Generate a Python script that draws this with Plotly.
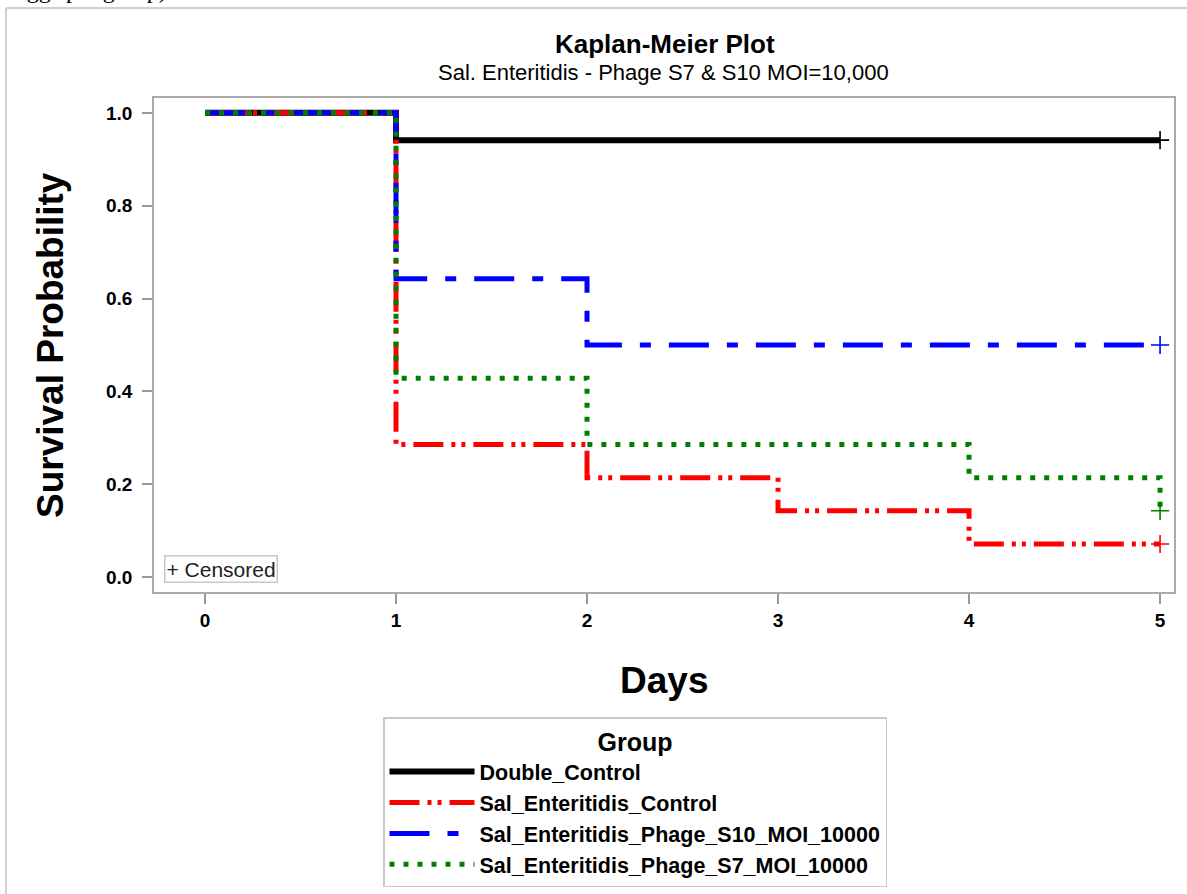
import plotly.graph_objects as go

# Kaplan-Meier survival estimates per group (step functions, days 0-5)
groups = [
    "Double_Control",
    "Sal_Enteritidis_Control",
    "Sal_Enteritidis_Phage_S10_MOI_10000",
    "Sal_Enteritidis_Phage_S7_MOI_10000",
]
days_double = [0, 1, 5]
surv_double = [1.0, 0.9412, 0.9412]
days_sal = [0, 1, 2, 3, 4, 5]
surv_sal = [1.0, 0.2857, 0.2143, 0.1429, 0.0714, 0.0714]
days_s10 = [0, 1, 2, 5]
surv_s10 = [1.0, 0.6429, 0.5, 0.5]
days_s7 = [0, 1, 2, 4, 5]
surv_s7 = [1.0, 0.4286, 0.2857, 0.2143, 0.1429]

# Censored observations at end of follow-up
cens_day = [5, 5, 5, 5]
cens_surv = [0.9412, 0.0714, 0.5, 0.1429]

x_ticks = [0, 1, 2, 3, 4, 5]
y_ticks = [0.0, 0.2, 0.4, 0.6, 0.8, 1.0]

colors = ["#000000", "#ff0000", "#0000ff", "#008000"]
dashes = ["solid", "30px,8px,4px,6px,4px,8px", "40px,18px,11px,18px", "5px,9px"]
widths = [6, 5, 5, 5]
series = [
    (days_double, surv_double),
    (days_sal, surv_sal),
    (days_s10, surv_s10),
    (days_s7, surv_s7),
]

FONT = "Liberation Sans, Arial, sans-serif"

fig = go.Figure()
for i, (name, (xs, ys)) in enumerate(zip(groups, series)):
    fig.add_trace(go.Scatter(
        x=xs, y=ys, mode="lines", name=name, line_shape="hv",
        line=dict(color=colors[i], width=widths[i], dash=dashes[i]),
        legendgroup=name,
    ))

for i in range(len(groups)):
    fig.add_trace(go.Scatter(
        x=[cens_day[i]], y=[cens_surv[i]], mode="markers", showlegend=False,
        marker=dict(symbol="cross-thin", size=13, color=colors[i],
                    line=dict(color=colors[i], width=1.6)),
        hoverinfo="skip",
    ))

def px_x(px):
    return (px - 154) / 1020

def px_y(py):
    return (592 - py) / 494

fig.update_layout(
    width=1187, height=894,
    margin=dict(l=154, r=13, t=98, b=302, autoexpand=False),
    paper_bgcolor="white", plot_bgcolor="white",
    font=dict(family=FONT, color="#000"),
    showlegend=True,
    legend=dict(
        x=px_x(383), y=px_y(717), xanchor="left", yanchor="top",
        bordercolor="#c8c8c8", borderwidth=1.5, bgcolor="white",
        font=dict(family=FONT, size=21.5, weight="bold"),
        title=dict(text="Group", side="top center",
                   font=dict(family=FONT, size=25, weight="bold")),
        itemwidth=85, tracegroupgap=0,
    ),
)

fig.update_xaxes(
    range=[-0.267, 5.073], tickvals=x_ticks, ticktext=[str(v) for v in x_ticks],
    ticks="outside", ticklen=10, tickcolor="#999", tickwidth=1.5,
    showline=True, linecolor="#aaa", linewidth=1.5, mirror=True,
    showgrid=False, zeroline=False,
    tickfont=dict(family=FONT, size=19, weight="bold"),
    ticklabelstandoff=0,
)
fig.update_yaxes(
    range=[-0.032, 1.032], tickvals=y_ticks, ticktext=[f"{v:.1f}" for v in y_ticks],
    ticks="outside", ticklen=10, tickcolor="#999", tickwidth=1.5,
    showline=True, linecolor="#aaa", linewidth=1.5, mirror=True,
    showgrid=False, zeroline=False,
    tickfont=dict(family=FONT, size=19, weight="bold"),
    ticklabelstandoff=6,
)

annotations = [
    dict(text="<b>Kaplan-Meier Plot</b>", x=px_x(665), y=px_y(44),
         font=dict(size=26)),
    dict(text="Sal. Enteritidis - Phage S7 &amp; S10 MOI=10,000", x=px_x(663), y=px_y(73),
         font=dict(size=22)),
    dict(text="<b>Days</b>", x=px_x(664), y=px_y(680), font=dict(size=37)),
    dict(text="<b>Survival Probability</b>", x=px_x(50), y=px_y(345),
         font=dict(size=37), textangle=-90),
    dict(text="+ Censored", x=px_x(164), y=px_y(583), xanchor="left", yanchor="bottom",
         font=dict(size=21, color="#222"), bordercolor="#c8c8c8", borderwidth=1.5,
         borderpad=1, bgcolor="white"),
    dict(text="7 eggs per group).", x=px_x(-4), y=px_y(-10), xanchor="left",
         font=dict(size=24, family="Liberation Serif, Times New Roman, serif")),
]
for a in annotations:
    base = dict(xref="paper", yref="paper", showarrow=False,
                xanchor="center", yanchor="middle")
    base.update(a)
    fig.add_annotation(**base)

# Outer frame around the figure panel
fig.add_shape(type="line", xref="paper", yref="paper",
              x0=px_x(6), y0=px_y(8), x1=px_x(1190), y1=px_y(8),
              line=dict(color="#d0d0d0", width=2))
fig.add_shape(type="line", xref="paper", yref="paper",
              x0=px_x(6), y0=px_y(8), x1=px_x(6), y1=px_y(900),
              line=dict(color="#d0d0d0", width=2))

fig.write_html("out.html")
